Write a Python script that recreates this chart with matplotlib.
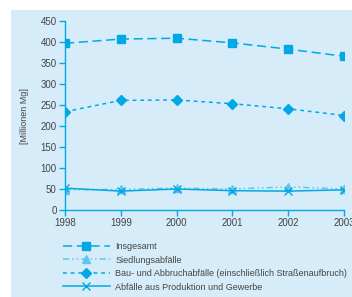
import numpy as np
import matplotlib.pyplot as plt
from matplotlib.patches import Rectangle

# data
years = [1998, 1999, 2000, 2001, 2002, 2003]
insgesamt = [397, 407, 409, 398, 383, 366]
siedlung = [48, 49, 52, 50, 55, 50]
bau = [234, 261, 262, 253, 241, 225]
produktion = [52, 45, 50, 46, 45, 48]
labels = ["Insgesamt", "Siedlungsabfälle",
          "Bau- und Abbruchabfälle (einschließlich Straßenaufbruch)",
          "Abfälle aus Produktion und Gewerbe"]

blue = '#00a9e6'
light = '#5cc6ee'
bg = '#d6edf9'
txt = '#444444'

plt.rcParams['font.family'] = ['Liberation Sans Narrow', 'Liberation Sans', 'DejaVu Sans']

fig = plt.figure(figsize=(3.52, 2.97), dpi=100)
fig.patches.append(Rectangle((11 / 352, 0), 1, 1 - 10 / 297, transform=fig.transFigure,
                             facecolor=bg, edgecolor='none', zorder=-5))

ax = fig.add_axes([65 / 352, 1 - 210 / 297, (344 - 65) / 352, (210 - 21) / 297])
ax.set_facecolor(bg)
ax.set_zorder(2)

ax.plot(years, insgesamt, color=blue, linestyle=(0, (6, 3)), linewidth=1.1,
        marker='s', markersize=5.5, label=labels[0])
ax.plot(years, siedlung, color=light, linestyle=(0, (4, 2, 1, 2, 1, 2)), linewidth=1.1,
        marker='^', markersize=6, label=labels[1])
ax.plot(years, bau, color=blue, linestyle=(0, (2.5, 2.5)), linewidth=1.1,
        marker='D', markersize=5, label=labels[2])
ax.plot(years, produktion, color=blue, linestyle='-', linewidth=1.1,
        marker='x', markersize=5.5, markeredgewidth=1, label=labels[3])

ax.set_xlim(1998, 2003)
ax.set_ylim(0, 450)
ax.set_xticks(years)
ax.set_yticks(np.arange(0, 451, 50))
for s in ['top', 'right']:
    ax.spines[s].set_visible(False)
for s in ['left', 'bottom']:
    ax.spines[s].set_color(blue)
    ax.spines[s].set_linewidth(1)
ax.tick_params(colors=blue, labelcolor=txt, labelsize=7, length=4, width=1, pad=2)
ax.set_ylabel("[Millionen Mg]", fontsize=6.5, color=txt, labelpad=8)

leg = fig.legend(loc='upper left', bbox_to_anchor=(63 / 352, 1 - 242 / 297), frameon=False,
                 fontsize=6.5, handlelength=5.2, handletextpad=0.6, labelspacing=0.5,
                 labelcolor=txt, borderaxespad=0, borderpad=0)

fig.savefig('out.png', dpi=100)
